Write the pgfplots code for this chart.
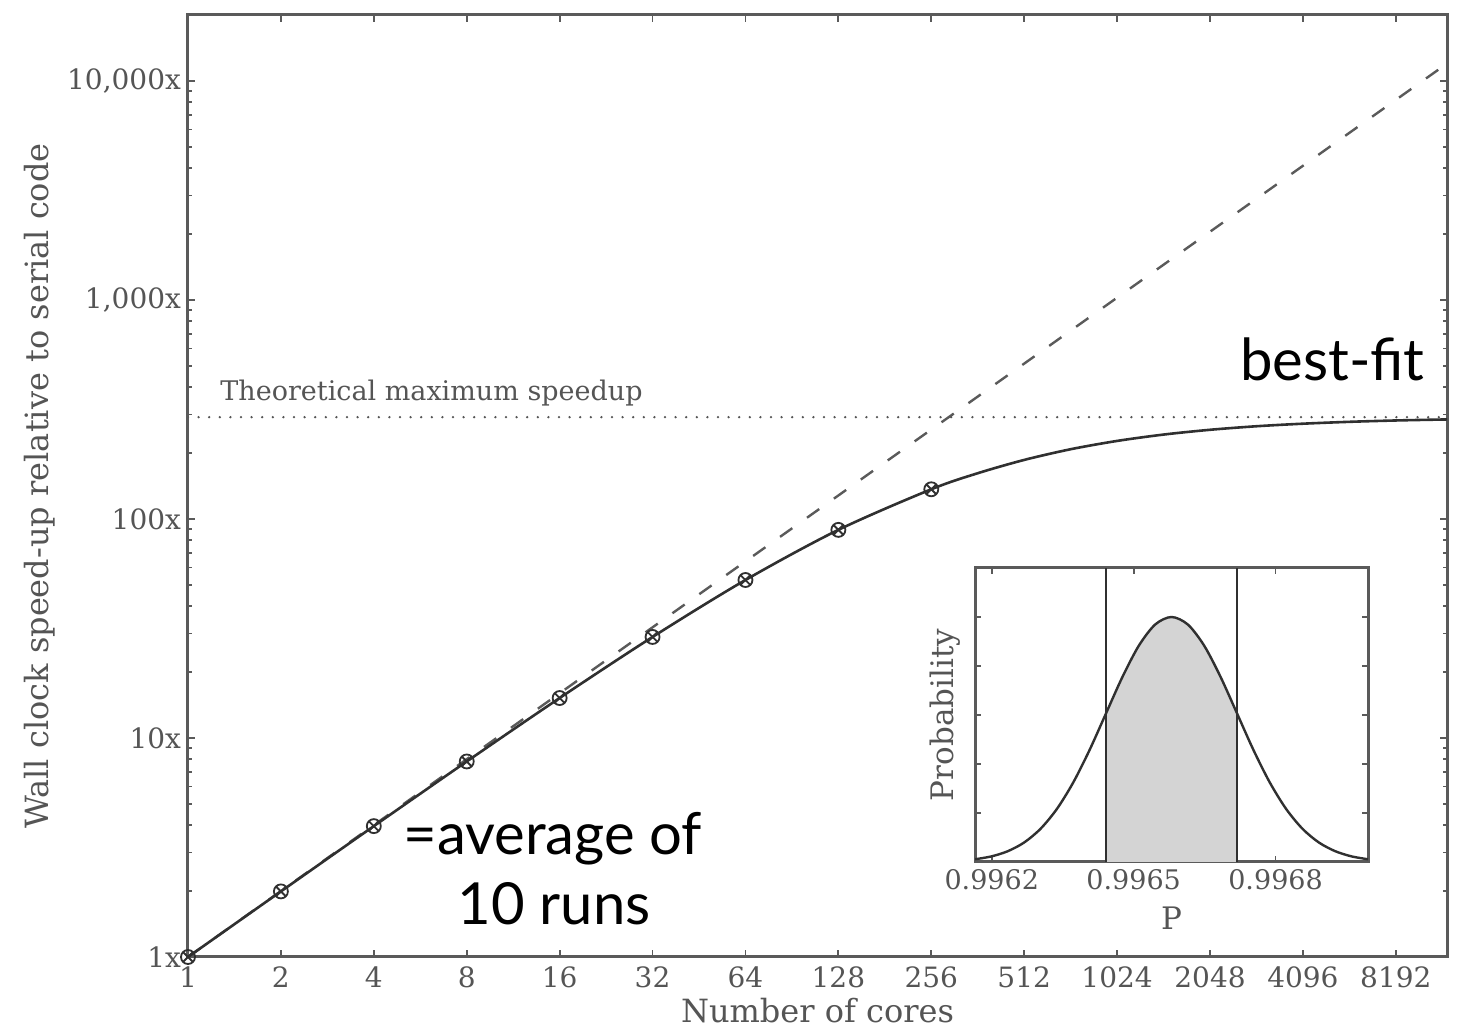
\documentclass[border=0pt]{standalone}
\usepackage{fontspec}
\setmainfont{DejaVu Serif}
\newfontfamily\annfont{Lato}
\usepackage{pgfplots}
\pgfplotsset{compat=1.18}

\definecolor{axgray}{HTML}{5A5A5A}
\definecolor{txtgray}{HTML}{555555}
\definecolor{curve}{HTML}{303030}
\definecolor{shade}{HTML}{D4D4D4}

\begin{document}
\begin{tikzpicture}
\useasboundingbox (-94pt,-37pt) rectangle (636pt,478.5pt);
\begin{axis}[
    scale only axis,
    width=629.5pt, height=471pt,
    xmode=log, ymode=log, log basis x=2,
    xmin=1, xmax=12000, ymin=1, ymax=20000,
    xtick={1,2,4,8,16,32,64,128,256,512,1024,2048,4096,8192},
    xticklabels={1,2,4,8,16,32,64,128,256,512,1024,2048,4096,8192},
    ytick={1,10,100,1000,10000},
    yticklabels={1x,10x,100x,{1,000x},{10,000x}},
    minor ytick={2,3,4,5,6,7,8,9,20,30,40,50,60,70,80,90,200,300,400,500,600,700,800,900,2000,3000,4000,5000,6000,7000,8000,9000,20000},
    xminorticks=false,
    axis line style={axgray, line width=1.5pt},
    tick style={axgray, line width=0.9pt},
    major tick length=3.5pt, minor tick length=2pt,
    ticklabel style={font=\fontsize{14}{16}\selectfont, text=txtgray},
    xticklabel style={yshift=-1.5pt},
    xlabel={Number of cores},
    ylabel={Wall clock speed-up relative to serial code},
    label style={font=\fontsize{16}{19}\selectfont, text=txtgray},
    xlabel style={at={(axis description cs:0.5,-0.057)}, anchor=center},
    ylabel style={at={(axis description cs:-0.1176,0.5)}, anchor=center},
]
% linear speed-up
\addplot[axgray, line width=1.2pt, dash pattern=on 7.5pt off 9pt] coordinates {(1,1) (12000,12000)};
% theoretical maximum
\addplot[txtgray, line width=1.3pt, line cap=round, dash pattern=on 0pt off 5.3pt] coordinates {(1,291.5) (12000,291.5)};
% best fit
\addplot[curve, line width=1.3pt, smooth] coordinates {
    (1,1) (2,1.993) (4,3.959) (8,7.812) (16,15.22) (32,28.92) (64,52.63)
    (128,89.16) (256,136.6) (362,161.7) (512,186.0) (724,208.1) (1024,227.1)
    (1448,242.8) (2048,255.3) (2896,265.0) (4096,272.2) (5793,277.6)
    (8192,281.6) (12000,284.7)};
% measured averages
\addplot[curve, only marks, mark=otimes, mark size=3.5pt, mark options={line width=0.9pt}] coordinates {
    (1,1) (2,1.993) (4,3.959) (8,7.812) (16,15.22) (32,28.92) (64,52.63)
    (128,89.16) (256,136.6)};

\node[anchor=base west, inner sep=0pt, text=txtgray, font=\fontsize{13.5}{16}\selectfont]
    at (rel axis cs:0.0254,0.591) {Theoretical maximum speedup};
\node[anchor=base east, inner sep=0pt, font=\annfont\fontsize{29}{34}\selectfont]
    at (rel axis cs:0.9825,0.6125) {best-fit};
\node[anchor=base west, inner sep=0pt, font=\annfont\fontsize{29}{34}\selectfont]
    at (rel axis cs:0.1708,0.1083) {=average of};
\node[anchor=base, inner sep=0pt, font=\annfont\fontsize{29}{34}\selectfont]
    at (rel axis cs:0.2907,0.034) {10 runs};
\end{axis}

% inset: posterior of P
\begin{axis}[
    at={(393.5pt,47.5pt)}, anchor=south west,
    scale only axis,
    width=196.5pt, height=147pt,
    xmin=-0.355, xmax=7.955, ymin=0, ymax=6,
    xtick={0,3,6},
    xticklabels={0.9962,0.9965,0.9968},
    ytick={0,1,2,3,4,5,6},
    yticklabels={},
    axis background/.style={fill=white},
    axis line style={axgray, line width=1.5pt},
    tick style={axgray, line width=0.9pt},
    major tick length=3pt,
    ticklabel style={font=\fontsize{13.5}{16}\selectfont, text=txtgray},
    xlabel={P},
    ylabel={Probability},
    label style={font=\fontsize{15.5}{18}\selectfont, text=txtgray},
    xlabel style={at={(axis description cs:0.5,-0.19)}, anchor=center},
    ylabel style={at={(axis description cs:-0.076,0.5)}, anchor=center},
]
\addplot[fill=shade, draw=none] coordinates {
    (2.415,0) (2.415,3.033) (2.761,3.774) (3.1075,4.4125) (3.454,4.846) (3.80,5)
    (4.146,4.846) (4.4925,4.4125) (4.839,3.774) (5.185,3.033) (5.185,0)} -- cycle;
\addplot[curve, line width=1.2pt, smooth] coordinates {
    (-0.355,0.056) (-0.009,0.114) (0.3375,0.220) (0.684,0.398) (1.03,0.677)
    (1.376,1.082) (1.722,1.623) (2.069,2.289) (2.415,3.033) (2.761,3.774)
    (3.1075,4.4125) (3.454,4.846) (3.80,5) (4.146,4.846) (4.4925,4.4125)
    (4.839,3.774) (5.185,3.033) (5.531,2.289) (5.878,1.623) (6.224,1.082)
    (6.57,0.677) (6.916,0.398) (7.2625,0.220) (7.609,0.114) (7.955,0.056)};
\addplot[curve, line width=1.2pt] coordinates {(2.415,0) (2.415,6)};
\addplot[curve, line width=1.2pt] coordinates {(5.185,0) (5.185,6)};
\end{axis}
\end{tikzpicture}
\end{document}
